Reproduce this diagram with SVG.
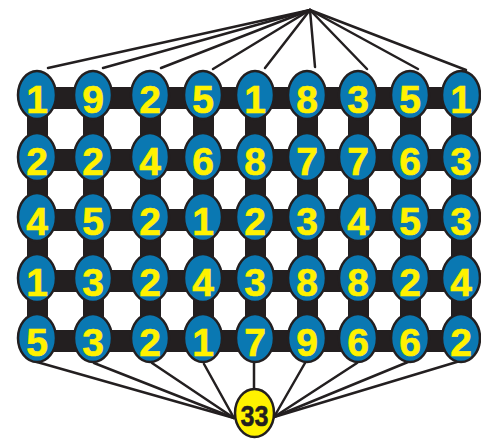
<svg xmlns="http://www.w3.org/2000/svg" width="481" height="439" viewBox="0 0 481 439">
<style>
.ln{stroke:#231f20;stroke-width:2.5;fill:none;stroke-linecap:round}
.bar{fill:#231f20}
.n ellipse{fill:#0a78b2;stroke:#231f20;stroke-width:2.5}
.n text{fill:#fff200;stroke:#fff200;stroke-width:0.6;font-family:"Liberation Sans",Arial,sans-serif;font-weight:bold;font-size:39px;text-anchor:middle}
#sum ellipse{fill:#fff200;stroke:#231f20;stroke-width:2.5}
#sum text{fill:#231f20;stroke:#231f20;stroke-width:0.5;font-family:"Liberation Sans",Arial,sans-serif;font-weight:bold;font-size:30px;text-anchor:middle}
</style>
<g id="connectors">
<g class="ln">
<line x1="310" y1="10" x2="48" y2="68"/>
<line x1="310" y1="10" x2="103" y2="68"/>
<line x1="310" y1="10" x2="161" y2="68"/>
<line x1="310" y1="10" x2="213" y2="69"/>
<line x1="310" y1="10" x2="265" y2="68"/>
<line x1="310" y1="10" x2="315" y2="67"/>
<line x1="310" y1="10" x2="367" y2="69"/>
<line x1="310" y1="10" x2="418" y2="69"/>
<line x1="310" y1="10" x2="466" y2="70"/>
<line x1="37" y1="362" x2="234" y2="418"/>
<line x1="94" y1="363" x2="234" y2="418"/>
<line x1="152" y1="363" x2="234" y2="418"/>
<line x1="204" y1="364" x2="234" y2="418"/>
<line x1="254" y1="363" x2="254" y2="389"/>
<line x1="305" y1="363" x2="274" y2="417"/>
<line x1="357" y1="363" x2="274" y2="417"/>
<line x1="408" y1="362" x2="274" y2="417"/>
<line x1="460" y1="361" x2="274" y2="417"/>
</g>
<g class="bar">
<rect x="37" y="87" width="424" height="22"/>
<rect x="37" y="149" width="424" height="22"/>
<rect x="37" y="209" width="424" height="22"/>
<rect x="37" y="270" width="424" height="22"/>
<rect x="37" y="330" width="424" height="22"/>
<rect x="27" y="95" width="21" height="243"/>
<rect x="83" y="95" width="21" height="243"/>
<rect x="140" y="95" width="21" height="243"/>
<rect x="193" y="95" width="21" height="243"/>
<rect x="245" y="95" width="21" height="243"/>
<rect x="297" y="95" width="21" height="243"/>
<rect x="348" y="95" width="21" height="243"/>
<rect x="400" y="95" width="21" height="243"/>
<rect x="451" y="95" width="21" height="243"/>
</g>
</g>
<g id="r1c1" class="n"><ellipse cx="37" cy="95" rx="19" ry="24"/><text x="37" y="113">1</text></g>
<g id="r1c2" class="n"><ellipse cx="93" cy="95" rx="19" ry="24"/><text x="93" y="113">9</text></g>
<g id="r1c3" class="n"><ellipse cx="150" cy="95" rx="19" ry="24"/><text x="150" y="113">2</text></g>
<g id="r1c4" class="n"><ellipse cx="203" cy="95" rx="19" ry="24"/><text x="203" y="113">5</text></g>
<g id="r1c5" class="n"><ellipse cx="255" cy="95" rx="19" ry="24"/><text x="255" y="113">1</text></g>
<g id="r1c6" class="n"><ellipse cx="307" cy="95" rx="19" ry="24"/><text x="307" y="113">8</text></g>
<g id="r1c7" class="n"><ellipse cx="358" cy="95" rx="19" ry="24"/><text x="358" y="113">3</text></g>
<g id="r1c8" class="n"><ellipse cx="410" cy="95" rx="19" ry="24"/><text x="410" y="113">5</text></g>
<g id="r1c9" class="n"><ellipse cx="461" cy="95" rx="19" ry="24"/><text x="461" y="113">1</text></g>
<g id="r2c1" class="n"><ellipse cx="37" cy="157" rx="19" ry="24"/><text x="37" y="175">2</text></g>
<g id="r2c2" class="n"><ellipse cx="93" cy="157" rx="19" ry="24"/><text x="93" y="175">2</text></g>
<g id="r2c3" class="n"><ellipse cx="150" cy="157" rx="19" ry="24"/><text x="150" y="175">4</text></g>
<g id="r2c4" class="n"><ellipse cx="203" cy="157" rx="19" ry="24"/><text x="203" y="175">6</text></g>
<g id="r2c5" class="n"><ellipse cx="255" cy="157" rx="19" ry="24"/><text x="255" y="175">8</text></g>
<g id="r2c6" class="n"><ellipse cx="307" cy="157" rx="19" ry="24"/><text x="307" y="175">7</text></g>
<g id="r2c7" class="n"><ellipse cx="358" cy="157" rx="19" ry="24"/><text x="358" y="175">7</text></g>
<g id="r2c8" class="n"><ellipse cx="410" cy="157" rx="19" ry="24"/><text x="410" y="175">6</text></g>
<g id="r2c9" class="n"><ellipse cx="461" cy="157" rx="19" ry="24"/><text x="461" y="175">3</text></g>
<g id="r3c1" class="n"><ellipse cx="37" cy="217" rx="19" ry="24"/><text x="37" y="235">4</text></g>
<g id="r3c2" class="n"><ellipse cx="93" cy="217" rx="19" ry="24"/><text x="93" y="235">5</text></g>
<g id="r3c3" class="n"><ellipse cx="150" cy="217" rx="19" ry="24"/><text x="150" y="235">2</text></g>
<g id="r3c4" class="n"><ellipse cx="203" cy="217" rx="19" ry="24"/><text x="203" y="235">1</text></g>
<g id="r3c5" class="n"><ellipse cx="255" cy="217" rx="19" ry="24"/><text x="255" y="235">2</text></g>
<g id="r3c6" class="n"><ellipse cx="307" cy="217" rx="19" ry="24"/><text x="307" y="235">3</text></g>
<g id="r3c7" class="n"><ellipse cx="358" cy="217" rx="19" ry="24"/><text x="358" y="235">4</text></g>
<g id="r3c8" class="n"><ellipse cx="410" cy="217" rx="19" ry="24"/><text x="410" y="235">5</text></g>
<g id="r3c9" class="n"><ellipse cx="461" cy="217" rx="19" ry="24"/><text x="461" y="235">3</text></g>
<g id="r4c1" class="n"><ellipse cx="37" cy="278" rx="19" ry="24"/><text x="37" y="296">1</text></g>
<g id="r4c2" class="n"><ellipse cx="93" cy="278" rx="19" ry="24"/><text x="93" y="296">3</text></g>
<g id="r4c3" class="n"><ellipse cx="150" cy="278" rx="19" ry="24"/><text x="150" y="296">2</text></g>
<g id="r4c4" class="n"><ellipse cx="203" cy="278" rx="19" ry="24"/><text x="203" y="296">4</text></g>
<g id="r4c5" class="n"><ellipse cx="255" cy="278" rx="19" ry="24"/><text x="255" y="296">3</text></g>
<g id="r4c6" class="n"><ellipse cx="307" cy="278" rx="19" ry="24"/><text x="307" y="296">8</text></g>
<g id="r4c7" class="n"><ellipse cx="358" cy="278" rx="19" ry="24"/><text x="358" y="296">8</text></g>
<g id="r4c8" class="n"><ellipse cx="410" cy="278" rx="19" ry="24"/><text x="410" y="296">2</text></g>
<g id="r4c9" class="n"><ellipse cx="461" cy="278" rx="19" ry="24"/><text x="461" y="296">4</text></g>
<g id="r5c1" class="n"><ellipse cx="37" cy="338" rx="19" ry="24"/><text x="37" y="356">5</text></g>
<g id="r5c2" class="n"><ellipse cx="93" cy="338" rx="19" ry="24"/><text x="93" y="356">3</text></g>
<g id="r5c3" class="n"><ellipse cx="150" cy="338" rx="19" ry="24"/><text x="150" y="356">2</text></g>
<g id="r5c4" class="n"><ellipse cx="203" cy="338" rx="19" ry="24"/><text x="203" y="356">1</text></g>
<g id="r5c5" class="n"><ellipse cx="255" cy="338" rx="19" ry="24"/><text x="255" y="356">7</text></g>
<g id="r5c6" class="n"><ellipse cx="307" cy="338" rx="19" ry="24"/><text x="307" y="356">9</text></g>
<g id="r5c7" class="n"><ellipse cx="358" cy="338" rx="19" ry="24"/><text x="358" y="356">6</text></g>
<g id="r5c8" class="n"><ellipse cx="410" cy="338" rx="19" ry="24"/><text x="410" y="356">6</text></g>
<g id="r5c9" class="n"><ellipse cx="461" cy="338" rx="19" ry="24"/><text x="461" y="356">2</text></g>
<g id="sum"><ellipse cx="254.5" cy="413" rx="19.5" ry="24"/><text x="254.5" y="426" textLength="28" lengthAdjust="spacingAndGlyphs">33</text></g>
</svg>
